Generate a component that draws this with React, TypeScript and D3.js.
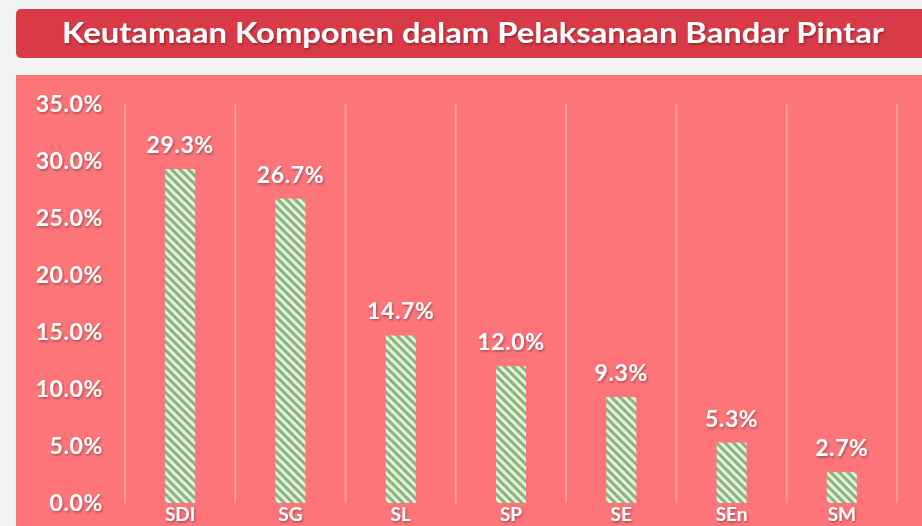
import React from "react";
import * as d3 from "d3";

const categories = ["SDI", "SG", "SL", "SP", "SE", "SEn", "SM"];
const values = [29.3, 26.7, 14.7, 12.0, 9.3, 5.3, 2.7];
const yTicks = [0, 5, 10, 15, 20, 25, 30, 35];
const title = "Keutamaan Komponen dalam Pelaksanaan Bandar Pintar";

const W = 922;
const H = 526;
const FONT = "Lato, 'Open Sans', sans-serif";

export default function App() {
  const x = d3
    .scaleBand<string>()
    .domain(categories)
    .range([125, 897])
    .paddingInner(0.728)
    .paddingOuter(0.364);
  const y = d3.scaleLinear().domain([0, 35]).range([503, 104]);
  const step = x.step();
  const gridXs = d3.range(categories.length + 1).map((i) => 125 + i * step);

  return (
    <svg
      width={W}
      height={H}
      style={{ position: "fixed", left: 0, top: 0, display: "block" }}
    >
      <defs>
        <pattern
          id="stripes"
          patternUnits="userSpaceOnUse"
          width={6}
          height={6}
          patternTransform="rotate(-45)"
        >
          <rect width={6} height={6} fill="#f1efc9" />
          <rect width={3} height={6} fill="#7db692" />
        </pattern>
        <filter id="shadow" x="-20%" y="-20%" width="140%" height="160%">
          <feDropShadow dx={1} dy={1.5} stdDeviation={1} floodColor="#000" floodOpacity={0.35} />
        </filter>
      </defs>
      <rect width={W} height={H} fill="#f4f4f4" />
      <rect x={16} y={9} width={W} height={49} rx={5} fill="#d93a47" />
      <text
        x={473}
        y={43}
        textAnchor="middle"
        fill="#fff"
        fontFamily={FONT}
        fontWeight={700}
        fontSize={29}
        textLength={822}
        lengthAdjust="spacingAndGlyphs"
        filter="url(#shadow)"
      >
        {title}
      </text>
      <rect x={16} y={75} width={W} height={H} fill="#fd7479" />
      {gridXs.map((gx, i) => (
        <line
          key={i}
          x1={gx}
          x2={gx}
          y1={y(35)}
          y2={y(0)}
          stroke="#ff9b9e"
          strokeWidth={2}
        />
      ))}
      {yTicks.map((t) => (
        <text
          key={t}
          x={103}
          y={y(t)}
          dy="0.36em"
          textAnchor="end"
          fill="#fff"
          fontFamily={FONT}
          fontWeight={700}
          fontSize={23}
          letterSpacing={0.6}
          filter="url(#shadow)"
        >
          {t.toFixed(1) + "%"}
        </text>
      ))}
      {categories.map((c, i) => (
        <g key={c}>
          <rect
            x={x(c)}
            y={y(values[i])}
            width={x.bandwidth()}
            height={y(0) - y(values[i])}
            fill="url(#stripes)"
          />
          <text
            x={(x(c) as number) + x.bandwidth() / 2}
            y={y(values[i]) - 16}
            textAnchor="middle"
            fill="#fff"
            fontFamily={FONT}
            fontWeight={700}
            fontSize={23}
            letterSpacing={0.6}
            filter="url(#shadow)"
          >
            {values[i].toFixed(1) + "%"}
          </text>
          <text
            x={(x(c) as number) + x.bandwidth() / 2}
            y={521}
            textAnchor="middle"
            fill="#fff"
            fontFamily={FONT}
            fontWeight={700}
            fontSize={19}
            filter="url(#shadow)"
          >
            {c}
          </text>
        </g>
      ))}
    </svg>
  );
}
